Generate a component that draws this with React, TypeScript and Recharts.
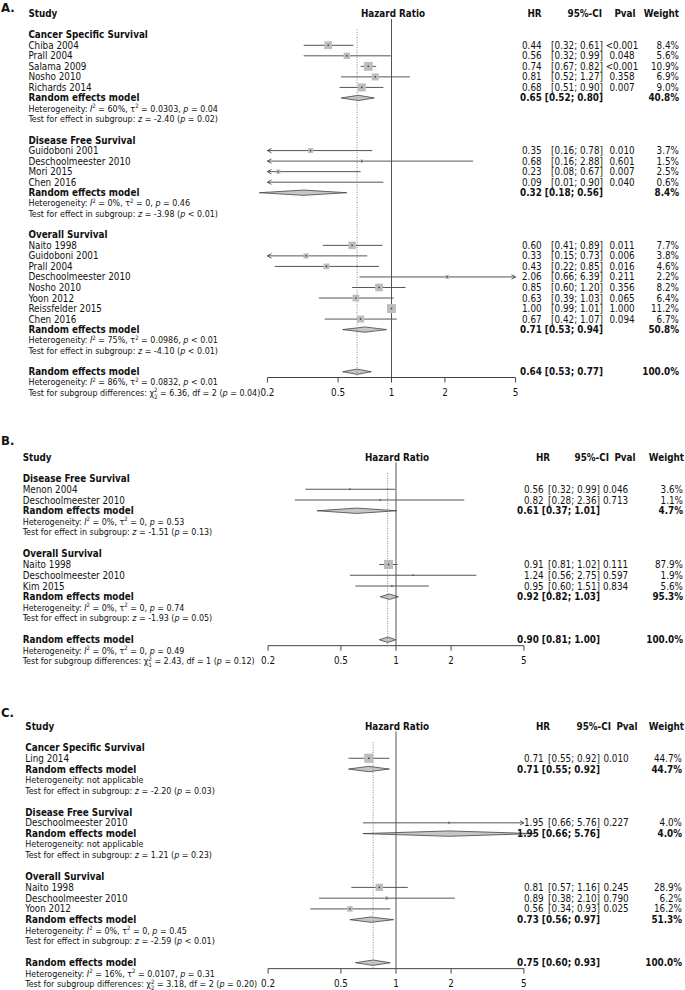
import React from 'react';
import { ComposedChart, XAxis, YAxis, Scatter, Line, Area, ReferenceLine } from 'recharts';

type Study = { name: string; hr: number; lo: number; hi: number; p: string; w: number };
type Group = { title: string; studies: Study[]; pooled: number[]; het: string[] | null; test: string[] };

const st = (name: string, hr: number, lo: number, hi: number, p: string, w: number): Study => ({ name, hr, lo, hi, p, w });

// ---- Panel A ----
const A_CSS = [
  st('Chiba 2004', 0.44, 0.32, 0.61, '<0.001', 8.4),
  st('Prall 2004', 0.56, 0.32, 0.99, '0.048', 5.6),
  st('Salama 2009', 0.74, 0.67, 0.82, '<0.001', 10.9),
  st('Nosho 2010', 0.81, 0.52, 1.27, '0.358', 6.9),
  st('Richards 2014', 0.68, 0.51, 0.90, '0.007', 9.0),
];
const A_CSS_POOLED = [0.65, 0.52, 0.80, 40.8];
const A_CSS_HET = ['60%', '0.0303', '= 0.04'];
const A_CSS_TEST = ['-2.40', '= 0.02'];

const A_DFS = [
  st('Guidoboni 2001', 0.35, 0.16, 0.78, '0.010', 3.7),
  st('Deschoolmeester 2010', 0.68, 0.16, 2.88, '0.601', 1.5),
  st('Mori 2015', 0.23, 0.08, 0.67, '0.007', 2.5),
  st('Chen 2016', 0.09, 0.01, 0.90, '0.040', 0.6),
];
const A_DFS_POOLED = [0.32, 0.18, 0.56, 8.4];
const A_DFS_HET = ['0%', '0', '= 0.46'];
const A_DFS_TEST = ['-3.98', '< 0.01'];

const A_OS = [
  st('Naito 1998', 0.60, 0.41, 0.89, '0.011', 7.7),
  st('Guidoboni 2001', 0.33, 0.15, 0.73, '0.006', 3.8),
  st('Prall 2004', 0.43, 0.22, 0.85, '0.016', 4.6),
  st('Deschoolmeester 2010', 2.06, 0.66, 6.39, '0.211', 2.2),
  st('Nosho 2010', 0.85, 0.60, 1.20, '0.356', 8.2),
  st('Yoon 2012', 0.63, 0.39, 1.03, '0.065', 6.4),
  st('Reissfelder 2015', 1.00, 0.99, 1.01, '1.000', 11.2),
  st('Chen 2016', 0.67, 0.42, 1.07, '0.094', 6.7),
];
const A_OS_POOLED = [0.71, 0.53, 0.94, 50.8];
const A_OS_HET = ['75%', '0.0986', '< 0.01'];
const A_OS_TEST = ['-4.10', '< 0.01'];

const A_TOTAL = [0.64, 0.53, 0.77, 100.0];
const A_TOTAL_HET = ['86%', '0.0832', '< 0.01'];
const A_TOTAL_CHI = ['6.36', '2', '= 0.04'];

// ---- Panel B ----
const B_DFS = [
  st('Menon 2004', 0.56, 0.32, 0.99, '0.046', 3.6),
  st('Deschoolmeester 2010', 0.82, 0.28, 2.36, '0.713', 1.1),
];
const B_DFS_POOLED = [0.61, 0.37, 1.01, 4.7];
const B_DFS_HET = ['0%', '0', '= 0.53'];
const B_DFS_TEST = ['-1.51', '= 0.13'];

const B_OS = [
  st('Naito 1998', 0.91, 0.81, 1.02, '0.111', 87.9),
  st('Deschoolmeester 2010', 1.24, 0.56, 2.75, '0.597', 1.9),
  st('Kim 2015', 0.95, 0.60, 1.51, '0.834', 5.6),
];
const B_OS_POOLED = [0.92, 0.82, 1.03, 95.3];
const B_OS_HET = ['0%', '0', '= 0.74'];
const B_OS_TEST = ['-1.93', '= 0.05'];

const B_TOTAL = [0.90, 0.81, 1.00, 100.0];
const B_TOTAL_HET = ['0%', '0', '= 0.49'];
const B_TOTAL_CHI = ['2.43', '1', '= 0.12'];

// ---- Panel C ----
const C_CSS = [st('Ling 2014', 0.71, 0.55, 0.92, '0.010', 44.7)];
const C_CSS_POOLED = [0.71, 0.55, 0.92, 44.7];
const C_CSS_TEST = ['-2.20', '= 0.03'];

const C_DFS = [st('Deschoolmeester 2010', 1.95, 0.66, 5.76, '0.227', 4.0)];
const C_DFS_POOLED = [1.95, 0.66, 5.76, 4.0];
const C_DFS_TEST = ['1.21', '= 0.23'];

const C_OS = [
  st('Naito 1998', 0.81, 0.57, 1.16, '0.245', 28.9),
  st('Deschoolmeester 2010', 0.89, 0.38, 2.10, '0.790', 6.2),
  st('Yoon 2012', 0.56, 0.34, 0.93, '0.025', 16.2),
];
const C_OS_POOLED = [0.73, 0.56, 0.97, 51.3];
const C_OS_HET = ['0%', '0', '= 0.45'];
const C_OS_TEST = ['-2.59', '< 0.01'];

const C_TOTAL = [0.75, 0.60, 0.93, 100.0];
const C_TOTAL_HET = ['16%', '0.0107', '= 0.31'];
const C_TOTAL_CHI = ['3.18', '2', '= 0.20'];

const TICKS = [0.2, 0.5, 1, 2, 5];
const X_MIN = 0.2;
const X_MAX = 5;

const FONT = '"DejaVu Sans Condensed", "DejaVu Sans", sans-serif';
const FS = 9.8;
const FS_SMALL = 8.9;
const FS_SUP = 6;

type Cols = { hr: number; ci: number; p: number; w: number };
type PanelCfg = {
  label: string; top: number; height: number; row0: number; h: number; domain: [number, number];
  labelRow: number; left: number; right: number; textX: number; titleX: number;
  cols: Cols; heads: Cols; groups: Group[]; total: number[]; totalHet: string[]; totalChi: string[];
};

const PANELS: PanelCfg[] = [
  {
    label: 'A.', top: 0, height: 404, row0: 13.7, h: 10.53, domain: [-1, 37], labelRow: -0.55,
    left: 214, right: 116, textX: 28.4, titleX: 393,
    cols: { hr: 522, ci: 603, p: 622, w: 679 }, heads: { hr: 534.5, ci: 602, p: 625, w: 679 },
    groups: [
      { title: 'Cancer Specific Survival', studies: A_CSS, pooled: A_CSS_POOLED, het: A_CSS_HET, test: A_CSS_TEST },
      { title: 'Disease Free Survival', studies: A_DFS, pooled: A_DFS_POOLED, het: A_DFS_HET, test: A_DFS_TEST },
      { title: 'Overall Survival', studies: A_OS, pooled: A_OS_POOLED, het: A_OS_HET, test: A_OS_TEST },
    ],
    total: A_TOTAL, totalHet: A_TOTAL_HET, totalChi: A_TOTAL_CHI,
  },
  {
    label: 'B.', top: 404, height: 296, row0: 457, h: 10.75, domain: [-2, 20], labelRow: -1.5,
    left: 213, right: 106, textX: 22.7, titleX: 397,
    cols: { hr: 524, ci: 600, p: 615.5, w: 683 }, heads: { hr: 543, ci: 609, p: 625, w: 684 },
    groups: [
      { title: 'Disease Free Survival', studies: B_DFS, pooled: B_DFS_POOLED, het: B_DFS_HET, test: B_DFS_TEST },
      { title: 'Overall Survival', studies: B_OS, pooled: B_OS_POOLED, het: B_OS_HET, test: B_OS_TEST },
    ],
    total: B_TOTAL, totalHet: B_TOTAL_HET, totalChi: B_TOTAL_CHI,
  },
  {
    label: 'C.', top: 700, height: 290, row0: 726, h: 10.76, domain: [-2, 24.5], labelRow: -1.3,
    left: 213, right: 106, textX: 25.3, titleX: 397,
    cols: { hr: 524, ci: 600, p: 616, w: 682 }, heads: { hr: 543, ci: 611, p: 627, w: 684 },
    groups: [
      { title: 'Cancer Specific Survival', studies: C_CSS, pooled: C_CSS_POOLED, het: null, test: C_CSS_TEST },
      { title: 'Disease Free Survival', studies: C_DFS, pooled: C_DFS_POOLED, het: null, test: C_DFS_TEST },
      { title: 'Overall Survival', studies: C_OS, pooled: C_OS_POOLED, het: C_OS_HET, test: C_OS_TEST },
    ],
    total: C_TOTAL, totalHet: C_TOTAL_HET, totalChi: C_TOTAL_CHI,
  },
];

type Row = { x: number; y: number; kind: string; text?: string; study?: Study; pooled?: number[]; het?: string[] | null; test?: string[] };

function layout(cfg: PanelCfg) {
  const rows: Row[] = [{ x: 1, y: cfg.labelRow, kind: 'label' }, { x: 1, y: 0, kind: 'header' }];
  const studyRows: { y: number; s: Study }[] = [];
  const pooledRows: { y: number; v: number[] }[] = [];
  let r = 2;
  cfg.groups.forEach((g) => {
    rows.push({ x: 1, y: r++, kind: 'title', text: g.title });
    g.studies.forEach((s) => {
      studyRows.push({ y: r, s });
      rows.push({ x: 1, y: r++, kind: 'study', study: s });
    });
    pooledRows.push({ y: r, v: g.pooled });
    rows.push({ x: 1, y: r++, kind: 'pooled', pooled: g.pooled });
    rows.push({ x: 1, y: r++, kind: 'het', het: g.het });
    rows.push({ x: 1, y: r++, kind: 'test', test: g.test });
    r++;
  });
  const totalRow = r;
  pooledRows.push({ y: r, v: cfg.total });
  rows.push({ x: 1, y: r++, kind: 'pooled', pooled: cfg.total });
  rows.push({ x: 1, y: r++, kind: 'het', het: cfg.totalHet });
  rows.push({ x: 1, y: r++, kind: 'chi', test: cfg.totalChi });
  return { rows, studyRows, pooledRows, totalRow };
}

const ci = (lo: number, hi: number) => `[${lo.toFixed(2)}; ${hi.toFixed(2)}]`;
const pct = (w: number) => `${w.toFixed(1)}%`;

function makeRowShape(cfg: PanelCfg) {
  return (props: any) => {
    const { cy, payload } = props;
    const row: Row = payload;
    const b = cy + 3.5;
    const bs = cy + 3.1;
    const t = { fontFamily: FONT, fontSize: FS, fill: '#111' } as const;
    const ts = { fontFamily: FONT, fontSize: FS_SMALL, fill: '#111' } as const;
    const c = cfg.cols;
    switch (row.kind) {
      case 'label':
        return <text x={1} y={cy + 4.5} fontFamily={FONT} fontSize={13} fontWeight="bold" fill="#111">{cfg.label}</text>;
      case 'header':
        return (
          <g fontWeight="bold">
            <text {...t} x={cfg.textX} y={b}>Study</text>
            <text {...t} x={cfg.titleX} y={b} textAnchor="middle">Hazard Ratio</text>
            <text {...t} x={cfg.heads.hr} y={b} textAnchor="middle">HR</text>
            <text {...t} x={cfg.heads.ci} y={b} textAnchor="end">95%-CI</text>
            <text {...t} x={cfg.heads.p} y={b} textAnchor="middle">Pval</text>
            <text {...t} x={cfg.heads.w} y={b} textAnchor="end">Weight</text>
          </g>
        );
      case 'title':
        return <text {...t} x={cfg.textX} y={b} fontWeight="bold">{row.text}</text>;
      case 'study': {
        const s = row.study!;
        return (
          <g>
            <text {...t} x={cfg.textX} y={b}>{s.name}</text>
            <text {...t} x={c.hr} y={b}>{s.hr.toFixed(2)}</text>
            <text {...t} x={c.ci} y={b} textAnchor="end">{ci(s.lo, s.hi)}</text>
            <text {...t} x={c.p} y={b} textAnchor="middle">{s.p}</text>
            <text {...t} x={c.w} y={b} textAnchor="end">{pct(s.w)}</text>
          </g>
        );
      }
      case 'pooled': {
        const p = row.pooled!;
        return (
          <g fontWeight="bold">
            <text {...t} x={cfg.textX} y={b}>Random effects model</text>
            <text {...t} x={c.ci} y={b} textAnchor="end">{`${p[0].toFixed(2)} ${ci(p[1], p[2])}`}</text>
            <text {...t} x={c.w} y={b} textAnchor="end">{pct(p[3])}</text>
          </g>
        );
      }
      case 'het': {
        const h = row.het;
        if (!h) return <text {...ts} x={cfg.textX} y={bs}>Heterogeneity: not applicable</text>;
        return (
          <text {...ts} x={cfg.textX} y={bs}>
            {'Heterogeneity: '}
            <tspan fontStyle="italic">I</tspan>
            <tspan dy={-3.4} fontSize={FS_SUP}>2</tspan>
            <tspan dy={3.4}>{` = ${h[0]}, τ`}</tspan>
            <tspan dy={-3.4} fontSize={FS_SUP}>2</tspan>
            <tspan dy={3.4}>{` = ${h[1]}, `}</tspan>
            <tspan fontStyle="italic">p</tspan>
            <tspan>{` ${h[2]}`}</tspan>
          </text>
        );
      }
      case 'test': {
        const z = row.test!;
        return (
          <text {...ts} x={cfg.textX} y={bs}>
            {'Test for effect in subgroup: '}
            <tspan fontStyle="italic">z</tspan>
            <tspan>{` = ${z[0]} (`}</tspan>
            <tspan fontStyle="italic">p</tspan>
            <tspan>{` ${z[1]})`}</tspan>
          </text>
        );
      }
      case 'chi': {
        const q = row.test!;
        return (
          <text {...ts} x={cfg.textX} y={bs}>
            {'Test for subgroup differences: χ'}
            <tspan dy={-3.4} fontSize={FS_SUP}>2</tspan>
            <tspan dx={-3.4} dy={6.2} fontSize={FS_SUP}>{q[1]}</tspan>
            <tspan dy={-2.8}>{` = ${q[0]}, df = ${q[1]} (`}</tspan>
            <tspan fontStyle="italic">p</tspan>
            <tspan>{` ${q[2]})`}</tspan>
          </text>
        );
      }
      default:
        return <g />;
    }
  };
}

function Panel({ cfg }: { cfg: PanelCfg }) {
  const { rows, studyRows, pooledRows, totalRow } = layout(cfg);
  const axisRow = totalRow + 0.55;
  const marginTop = cfg.row0 + cfg.domain[0] * cfg.h - cfg.top;
  const plotH = (cfg.domain[1] - cfg.domain[0]) * cfg.h;
  const marginBottom = cfg.height - marginTop - plotH;
  const wmax = Math.max(...studyRows.map((r) => r.s.w));

  // confidence interval segments, clipped to the axis range with arrows
  const ciData: any[] = [];
  studyRows.forEach(({ y, s }) => {
    const a = Math.max(s.lo, X_MIN);
    const b = Math.min(s.hi, X_MAX);
    ciData.push({ x: a, y, arrow: s.lo < X_MIN ? 'left' : null });
    ciData.push({ x: b, y, arrow: s.hi > X_MAX ? 'right' : null });
    ciData.push({ x: b, y: null });
  });

  const squares = studyRows
    .filter(({ s }) => s.hr >= X_MIN && s.hr <= X_MAX)
    .map(({ y, s }) => ({ x: s.hr, y, w: s.w }));

  const tickData = TICKS.map((v) => ({ x: v, y: axisRow, label: String(v) }));

  const arrowDot = (props: any) => {
    const { cx, cy, payload, index } = props;
    if (!payload || !payload.arrow || cx == null || cy == null) return <g key={'d' + index} />;
    const d = payload.arrow === 'left' ? 4 : -4;
    return (
      <path key={'d' + index} d={`M${cx + d},${cy - 2.2} L${cx},${cy} L${cx + d},${cy + 2.2}`} fill="none" stroke="#444" strokeWidth={0.9} />
    );
  };

  const squareShape = (props: any) => {
    const { cx, cy, payload } = props;
    const side = 0.85 * cfg.h * Math.sqrt(payload.w / wmax);
    return (
      <g>
        <rect x={cx - side / 2} y={cy - side / 2} width={side} height={side} fill="#bdbdbd" />
        <rect x={cx - 0.7} y={cy - 0.7} width={1.4} height={1.4} fill="#333" />
      </g>
    );
  };

  const tickShape = (props: any) => {
    const { cx, cy, payload } = props;
    return (
      <g>
        <line x1={cx} x2={cx} y1={cy} y2={cy + 5} stroke="#444" strokeWidth={1} />
        <text x={cx} y={cy + 18.5} textAnchor="middle" fontFamily={FONT} fontSize={FS} fill="#111">{payload.label}</text>
      </g>
    );
  };

  const rowShape = makeRowShape(cfg);

  return (
    <div style={{ position: 'absolute', left: 0, top: cfg.top }}>
      <ComposedChart
        width={685}
        height={cfg.height}
        margin={{ top: marginTop, bottom: marginBottom, left: cfg.left, right: cfg.right }}
      >
        <XAxis type="number" dataKey="x" scale="log" domain={[0.1, 10]} hide />
        <YAxis type="number" domain={cfg.domain} reversed hide />
        <ReferenceLine segment={[{ x: 1, y: 0.5 }, { x: 1, y: axisRow }]} stroke="#555" strokeWidth={1} ifOverflow="visible" />
        <ReferenceLine
          segment={[{ x: cfg.total[0], y: 1.5 }, { x: cfg.total[0], y: axisRow }]}
          stroke="#888"
          strokeWidth={1}
          strokeDasharray="1 1.5"
          ifOverflow="visible"
        />
        <ReferenceLine segment={[{ x: X_MIN, y: axisRow }, { x: X_MAX, y: axisRow }]} stroke="#444" strokeWidth={1} ifOverflow="visible" />
        <Line
          data={ciData}
          dataKey="y"
          type="linear"
          stroke="#555"
          strokeWidth={1}
          dot={arrowDot}
          activeDot={false}
          connectNulls={false}
          isAnimationActive={false}
        />
        {pooledRows.map((p, i) => (
          <Area
            key={'dm' + i}
            data={[
              { x: p.v[1], band: [p.y, p.y] },
              { x: p.v[0], band: [p.y - 0.25, p.y + 0.25] },
              { x: p.v[2], band: [p.y, p.y] },
            ]}
            dataKey="band"
            type="linear"
            fill="#c6c6c6"
            fillOpacity={1}
            stroke="#444"
            strokeWidth={0.8}
            dot={false}
            activeDot={false}
            isAnimationActive={false}
          />
        ))}
        <Scatter data={squares} dataKey="y" shape={squareShape} isAnimationActive={false} />
        <Scatter data={tickData} dataKey="y" shape={tickShape} isAnimationActive={false} />
        <Scatter data={rows} dataKey="y" shape={rowShape} isAnimationActive={false} />
      </ComposedChart>
    </div>
  );
}

export default function App() {
  return (
    <div style={{ position: 'absolute', left: 0, top: 0, width: 685, height: 990, background: '#fff' }}>
      {PANELS.map((p) => (
        <Panel key={p.label} cfg={p} />
      ))}
    </div>
  );
}
